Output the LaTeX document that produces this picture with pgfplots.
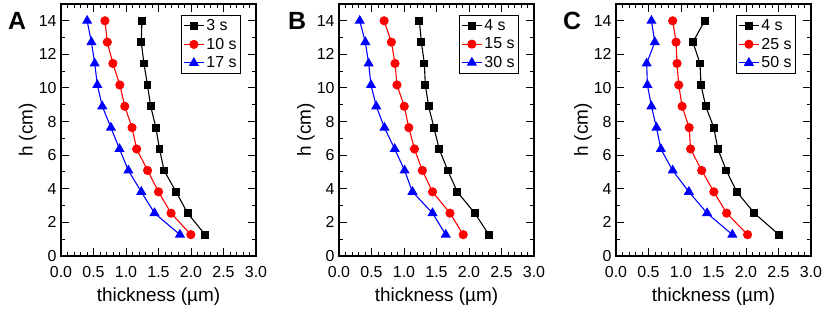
\documentclass[border=0pt]{standalone}
\usepackage{pgfplots}
\pgfplotsset{compat=1.18}
\usepackage{fontspec}
\setmainfont{Liberation Sans}
\pgfplotsset{
  panel/.style={
    scale only axis, width=195bp, height=252bp, clip=false,
    xmin=0, xmax=3, ymin=0, ymax=15,
    xtick={0,0.5,...,3}, ytick={0,2,...,14},
    minor x tick num=4, minor y tick num=1,
    tick pos=both, tick align=inside,
    major tick length=8bp, minor tick length=4bp,
    axis line style={line width=1.2bp},
    every tick/.style={line width=1bp, black},
    xticklabel style={/pgf/number format/fixed, /pgf/number format/fixed zerofill, /pgf/number format/precision=1, yshift=-7bp},
    yticklabel style={xshift=-1bp},
    /pgf/number format/assume math mode=true,
    tick label style={font=\fontsize{16}{16}\selectfont},
    every axis x label/.style={at={(axis description cs:0.5,-0.16)}, anchor=center, font=\fontsize{19}{19}\selectfont},
    every axis y label/.style={at={(axis description cs:-0.17,0.5)}, rotate=90, anchor=center, font=\fontsize{19}{19}\selectfont},
    xlabel={thickness (\textmu m)}, ylabel={h (cm)},
    legend style={at={(1,1)}, anchor=north east, xshift=-15bp, yshift=-11bp,
      font=\fontsize{16}{16}\selectfont, draw=black, line width=0.9bp,
      inner sep=2bp, row sep=2bp, nodes={inner sep=2bp}},
    legend cell align=left,
    legend image code/.code={
      \draw[mark repeat=2,mark phase=2] plot coordinates {(0bp,0bp) (10bp,0bp) (20bp,0bp)};},
  },
  sq/.style={black, line width=1.1bp, mark=square*, mark size=3.4bp, mark options={solid}},
  ci/.style={red, line width=1.1bp, mark=*, mark size=4bp, mark options={solid}},
  tr/.style={blue, line width=1.1bp, mark=triangle*, mark size=4.8bp, mark options={solid}},
}
\begin{document}
\begin{tikzpicture}
\path[use as bounding box] (0,0) rectangle (830bp,312bp);
% Panel A
\begin{axis}[panel, at={(61bp,56bp)}, anchor=south west]
\addplot[sq] coordinates {(1.245,14.0) (1.235,12.73) (1.276,11.46) (1.33,10.18) (1.38,8.91) (1.46,7.64) (1.515,6.37) (1.586,5.09) (1.77,3.82) (1.947,2.55) (2.217,1.27)};
\addlegendentry{3 s}
\addplot[ci] coordinates {(0.676,14.0) (0.712,12.73) (0.798,11.46) (0.905,10.18) (0.981,8.91) (1.093,7.64) (1.164,6.37) (1.332,5.09) (1.50,3.82) (1.693,2.55) (1.998,1.27)};
\addlegendentry{10 s}
\addplot[tr] coordinates {(0.402,14.0) (0.468,12.73) (0.519,11.46) (0.559,10.18) (0.635,8.91) (0.768,7.64) (0.90,6.37) (1.037,5.09) (1.235,3.82) (1.439,2.55) (1.83,1.27)};
\addlegendentry{17 s}
\node[font=\bfseries\fontsize{25}{25}\selectfont] at (rel axis cs:-0.225,0.933) {A};
\end{axis}
% Panel B
\begin{axis}[panel, at={(339bp,56bp)}, anchor=south west]
\addplot[sq] coordinates {(1.237,14.0) (1.267,12.73) (1.313,11.46) (1.328,10.18) (1.379,8.91) (1.46,7.64) (1.541,6.37) (1.673,5.09) (1.82,3.82) (2.088,2.55) (2.306,1.27)};
\addlegendentry{4 s}
\addplot[ci] coordinates {(0.694,14.0) (0.806,12.73) (0.862,11.46) (0.892,10.18) (1.004,8.91) (1.074,7.64) (1.161,6.37) (1.282,5.09) (1.439,3.82) (1.708,2.55) (1.911,1.27)};
\addlegendentry{15 s}
\addplot[tr] coordinates {(0.319,14.0) (0.405,12.73) (0.456,11.46) (0.492,10.18) (0.573,8.91) (0.699,7.64) (0.857,6.37) (1.009,5.09) (1.13,3.82) (1.439,2.55) (1.642,1.27)};
\addlegendentry{30 s}
\node[font=\bfseries\fontsize{25}{25}\selectfont] at (rel axis cs:-0.215,0.933) {B};
\end{axis}
% Panel C
\begin{axis}[panel, at={(616bp,56bp)}, anchor=south west]
\addplot[sq] coordinates {(1.365,14.0) (1.183,12.73) (1.292,11.46) (1.308,10.18) (1.38,8.91) (1.505,7.64) (1.567,6.37) (1.697,5.09) (1.858,3.82) (2.128,2.55) (2.506,1.27)};
\addlegendentry{4 s}
\addplot[ci] coordinates {(0.872,14.0) (0.924,12.73) (0.939,11.46) (0.965,10.18) (1.017,8.91) (1.126,7.64) (1.147,6.37) (1.318,5.09) (1.505,3.82) (1.702,2.55) (2.024,1.27)};
\addlegendentry{25 s}
\addplot[tr] coordinates {(0.545,14.0) (0.597,12.73) (0.472,11.46) (0.483,10.18) (0.545,8.91) (0.623,7.64) (0.69,6.37) (0.872,5.09) (1.121,3.82) (1.401,2.55) (1.79,1.27)};
\addlegendentry{50 s}
\node[font=\bfseries\fontsize{25}{25}\selectfont] at (rel axis cs:-0.225,0.933) {C};
\end{axis}
\end{tikzpicture}
\end{document}
